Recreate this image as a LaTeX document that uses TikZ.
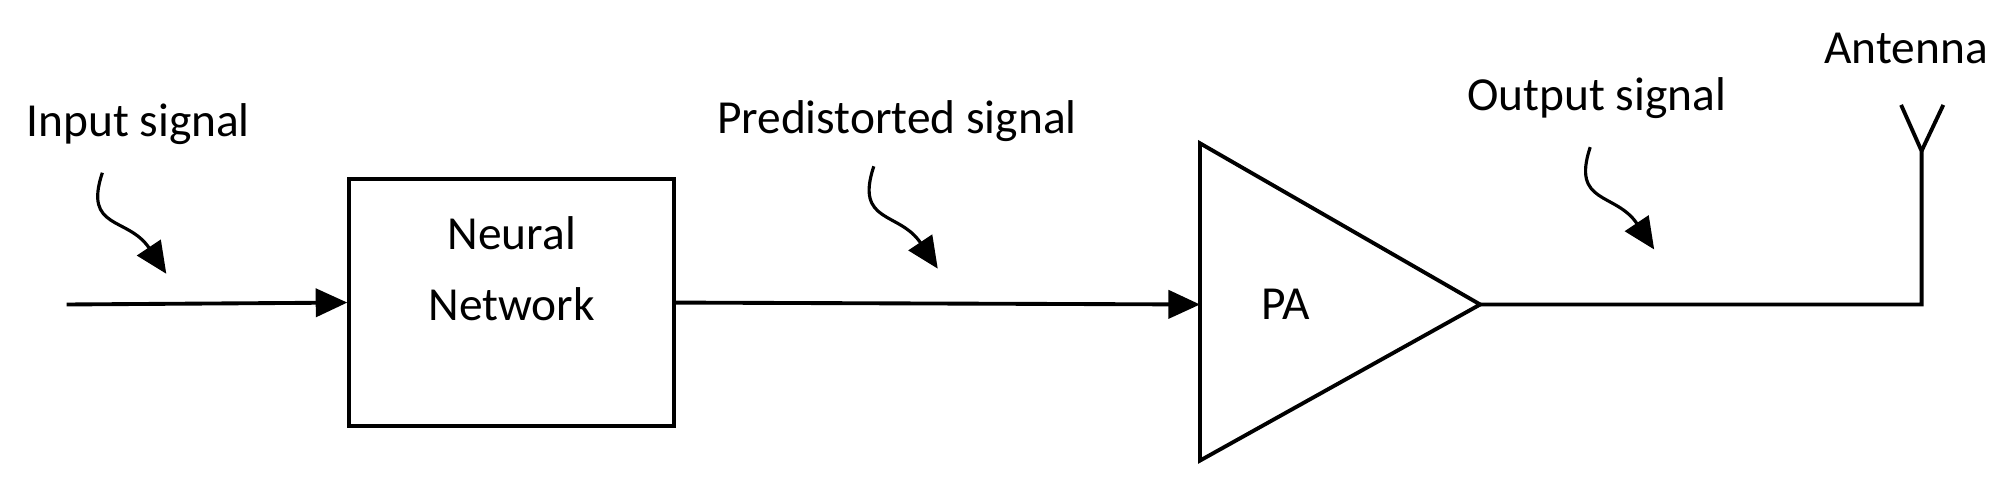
\documentclass[tikz,border=0pt]{standalone}
\usepackage{fontspec}
\setmainfont{Carlito}
\usetikzlibrary{arrows.meta,calc}
\begin{document}
\begin{tikzpicture}[x=0.0128cm,y=-0.0128cm,
  line/.style={line width=1.1pt},
  arr/.style={line, -{Triangle[length=9pt,width=8pt]}},
  wav/.style={line width=0.9pt, -{Triangle[length=9pt,width=8pt]}},
  lbl/.style={font=\fontsize{13.5}{16}\selectfont, inner sep=0pt}]
\useasboundingbox (0,0) rectangle (1568,381);
\coordinate (in) at (52,238);
\node[line, draw, minimum width=254*0.0128cm, minimum height=193*0.0128cm] (nn) at (400,236.5) {};
\node[lbl, align=center] at (400,210) {Neural\\[4pt]Network};
\coordinate (pa1) at (938,112); \coordinate (pa2) at (938,360); \coordinate (pa3) at (1157,238);
\draw[line] (pa1) -- (pa2) -- (pa3) -- cycle;
\coordinate (pain) at (938,238);
\node[lbl] (pa) at (1005,238) {PA};
\coordinate (ant) at (1502,238);
\coordinate (anttop) at (1502,118);
\coordinate (antl) at (1486,82); \coordinate (antr) at (1519,82);
\draw[arr] (in) -- (nn.west);
\draw[arr] (nn.east) -- (pain);
\draw[line] (pa3) -- (ant) -- (anttop) -- (antl);
\draw[line] (anttop) -- (antr);
\node[lbl] (l1) at (108,97) {Input signal};
\node[lbl] (l2) at (701,95) {Predistorted signal};
\node[lbl] (l3) at (1248,77) {Output signal};
\node[lbl] (l4) at (1490,38) {Antenna};
\coordinate (w1a) at (80,135); \coordinate (w1b) at (130,214);
\coordinate (w2a) at (683,130); \coordinate (w2b) at (733,210);
\coordinate (w3a) at (1243,115); \coordinate (w3b) at (1293,195);
\foreach \a/\b in {w1a/w1b,w2a/w2b,w3a/w3b}
  \draw[wav] (\a) .. controls ($(\a)+(-15,45)$) and ($(\b)+(-30,-45)$) .. (\b);
\end{tikzpicture}
\end{document}
